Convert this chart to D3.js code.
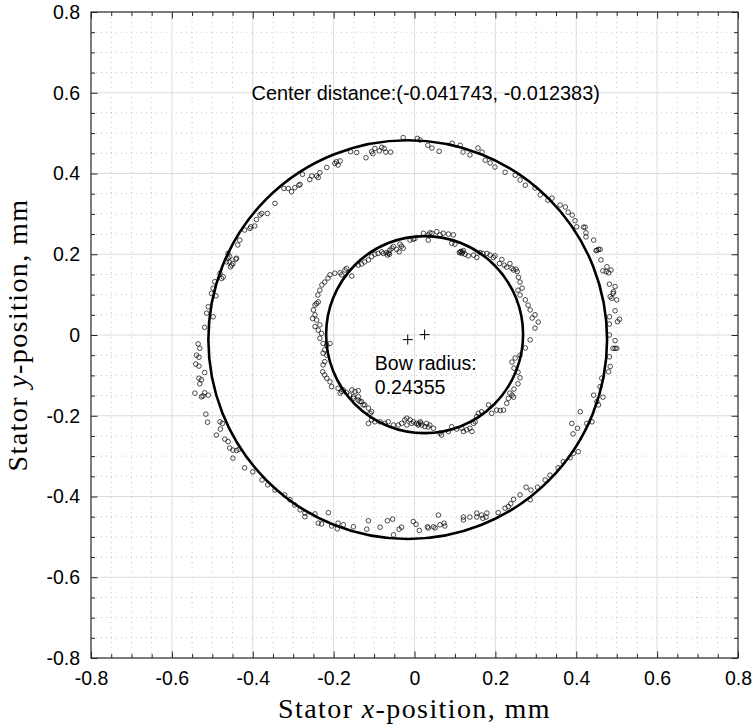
<!DOCTYPE html>
<html>
<head>
<meta charset="utf-8">
<script src="https://cdn.jsdelivr.net/npm/d3@7"></script>
<style>
  html, body { margin: 0; padding: 0; background: #fff; }
  svg { display: block; }
</style>
</head>
<body>
<svg id="chart" width="752" height="726"></svg>
<script>
// Measured rotor positions (mm) around the outer (whirl) orbit
const outerPoints = [
  [-0.028,0.489],[0.007,0.487],[0.061,0.455],[-0.081,0.465],[-0.075,0.462],[-0.087,0.456],
  [-0.098,0.462],[-0.106,0.454],[-0.103,0.449],[-0.120,0.439],[-0.143,0.452],[-0.158,0.454],
  [-0.059,0.453],[-0.071,0.453],[-0.193,0.429],[-0.184,0.431],[-0.197,0.425],[-0.189,0.421],
  [-0.217,0.415],[-0.234,0.402],[-0.242,0.394],[-0.254,0.394],[-0.259,0.385],[-0.238,0.390],
  [-0.277,0.398],[-0.283,0.373],[-0.286,0.371],[-0.296,0.365],[-0.304,0.355],[-0.312,0.363],
  [-0.323,0.363],[-0.345,0.326],[-0.364,0.301],[-0.378,0.301],[-0.382,0.297],[-0.391,0.286],
  [-0.395,0.270],[-0.405,0.268],[-0.407,0.264],[-0.420,0.260],[-0.432,0.235],[-0.437,0.223],
  [-0.440,0.190],[-0.449,0.177],[-0.458,0.181],[-0.455,0.169],[-0.461,0.190],[-0.452,0.173],
  [-0.465,0.181],[-0.461,0.202],[-0.457,0.194],[-0.442,0.188],
  [-0.481,0.153],[-0.473,0.144],[-0.477,0.140],[-0.494,0.132],[-0.498,0.116],[-0.502,0.103],
  [-0.491,0.097],[-0.510,0.070],[-0.514,0.054],[-0.498,0.045],[-0.519,0.019],
  [-0.535,-0.022],[-0.531,-0.033],[-0.539,-0.050],[-0.533,-0.055],[-0.541,-0.072],[-0.533,-0.077],
  [-0.519,-0.093],[-0.533,-0.107],[-0.527,-0.111],[-0.531,-0.121],[-0.543,-0.144],[-0.519,-0.143],
  [-0.523,-0.151],[-0.510,-0.149],[-0.527,-0.153],[-0.516,-0.196],[-0.512,-0.216],[-0.481,-0.215],
  [-0.475,-0.219],[-0.480,-0.233],[-0.490,-0.248],[-0.469,-0.258],[-0.461,-0.264],[-0.457,-0.280],
  [-0.449,-0.285],[-0.440,-0.286],[-0.434,-0.283],[-0.449,-0.305],
  [-0.420,-0.329],[-0.400,-0.339],[-0.377,-0.359],[-0.363,-0.371],[-0.345,-0.384],[-0.321,-0.396],
  [-0.308,-0.408],[-0.296,-0.421],[-0.283,-0.433],
  [-0.271,-0.441],[-0.271,-0.450],[-0.246,-0.443],[-0.238,-0.466],[-0.230,-0.468],[-0.213,-0.440],
  [-0.205,-0.473],[-0.189,-0.466],[-0.191,-0.480],[-0.176,-0.470],[-0.151,-0.475],[-0.114,-0.460],
  [-0.118,-0.481],[-0.085,-0.476],[-0.067,-0.460],[-0.054,-0.456],[-0.052,-0.495],[-0.038,-0.481],
  [-0.032,-0.476],[-0.003,-0.462],[0.004,-0.469],[0.012,-0.484],[0.032,-0.475],[0.034,-0.478],
  [0.047,-0.475],[0.051,-0.478],[0.059,-0.446],[0.063,-0.470],[0.073,-0.466],[0.075,-0.473],
  [0.121,-0.451],[0.121,-0.458],[0.137,-0.451],[0.154,-0.441],[0.154,-0.451],[0.166,-0.446],
  [0.169,-0.454],[0.179,-0.441],[0.177,-0.451],[0.207,-0.440],[0.224,-0.429],[0.232,-0.425],
  [0.238,-0.418],[0.245,-0.407],[0.261,-0.396],[0.276,-0.377],[0.288,-0.384],[0.286,-0.408],
  [0.304,-0.377],[0.323,-0.359],[0.335,-0.347],[0.355,-0.329],[0.368,-0.314],[0.385,-0.304],
  [0.405,-0.289],[0.393,-0.293],[0.392,-0.245],[0.403,-0.231],[0.389,-0.219],[0.410,-0.190],
  [0.426,-0.219],[0.439,-0.215],[0.443,-0.149],[0.451,-0.165],[0.455,-0.173],[0.466,-0.154],
  [0.459,-0.128],[0.463,-0.107],[0.480,-0.091],[0.484,-0.078],[0.482,-0.054],[0.496,-0.033],
  [0.500,-0.033],[0.491,-0.033],[0.496,-0.014],[0.482,0.000],
  [0.397,0.283],[0.401,0.268],[0.418,0.267],[0.422,0.267],[0.424,0.253],[0.424,0.243],
  [0.443,0.235],[0.451,0.210],[0.455,0.212],[0.459,0.212],[0.449,0.209],[0.461,0.186],
  [0.476,0.169],[0.466,0.159],[0.474,0.157],[0.480,0.154],[0.486,0.161],[0.482,0.126],
  [0.496,0.120],[0.492,0.107],[0.484,0.095],[0.488,0.091],[0.491,0.103],[0.500,0.087],
  [0.496,0.060],[0.482,0.045],[0.507,0.039],[0.502,0.033],[0.482,0.027],
  [0.093,0.475],[0.113,0.470],[0.120,0.453],[0.137,0.446],[0.157,0.463],[0.167,0.453],
  [0.175,0.433],[0.187,0.426],[0.199,0.416],[0.224,0.403],[0.249,0.396],[0.261,0.384],
  [0.274,0.371],[0.298,0.364],[0.311,0.347],[0.330,0.334],[0.340,0.339],[0.360,0.322],
  [0.373,0.317],[0.380,0.304],[0.390,0.297],[0.014,0.483],[0.033,0.470],[0.043,0.463]
];

// Measured rotor positions (mm) around the inner (bow) orbit
const innerPoints = [
  [-0.184,0.154],[-0.180,0.149],[-0.172,0.161],[-0.168,0.165],[-0.155,0.146],[-0.139,0.173],
  [-0.131,0.176],[-0.123,0.181],[-0.114,0.186],[-0.106,0.194],[-0.098,0.200],[-0.090,0.202],
  [-0.081,0.206],[-0.077,0.202],[-0.069,0.204],[-0.067,0.198],[-0.064,0.203],[-0.062,0.200],
  [-0.061,0.210],[-0.056,0.215],[-0.052,0.219],[-0.044,0.212],[-0.036,0.225],[-0.032,0.220],
  [-0.038,0.206],[-0.028,0.215],[-0.011,0.235],[-0.003,0.237],[0.001,0.239],[0.022,0.252],
  [0.034,0.248],[0.038,0.253],[0.034,0.235],[0.043,0.252],[0.055,0.256],[0.063,0.248],
  [0.071,0.252],[0.084,0.250],[0.096,0.248],[0.092,0.227],[0.100,0.225],[0.113,0.206],
  [0.115,0.207],[0.119,0.205],[0.117,0.202],[0.121,0.209],[0.111,0.204],[0.125,0.200],
  [0.133,0.196],[0.146,0.198],[0.154,0.192],[0.162,0.204],[0.169,0.202],[0.179,0.202],
  [0.187,0.198],[0.195,0.192],[0.199,0.196],[0.210,0.177],[0.216,0.187],[0.222,0.173],
  [0.228,0.168],[0.236,0.177],[0.241,0.165],[0.245,0.161],[0.251,0.163],[0.254,0.157],
  [0.257,0.143],
  [-0.239,0.099],[-0.234,0.111],[-0.229,0.124],[-0.222,0.131],[-0.214,0.141],[-0.209,0.149],
  [-0.197,0.153],[-0.246,0.074],[-0.242,0.078],[-0.238,0.082],[-0.250,0.062],[-0.246,0.050],
  [-0.252,0.041],[-0.242,0.037],[-0.234,0.025],[-0.246,0.021],[-0.238,0.012],[-0.230,0.004],
  [-0.234,-0.008],[-0.226,-0.021],[-0.217,-0.025],[-0.209,-0.021],[-0.222,-0.037],[-0.226,-0.045],
  [-0.217,-0.050],[-0.222,-0.066],[-0.226,-0.074],[-0.227,-0.091],[-0.222,-0.099],[-0.217,-0.107],
  [-0.209,-0.116],[-0.205,-0.128],[-0.189,-0.132],[-0.184,-0.144],[-0.155,-0.136],[-0.147,-0.140],
  [-0.139,-0.138],[-0.160,-0.149],[-0.151,-0.153],[-0.139,-0.153],[-0.131,-0.165],[-0.123,-0.173],
  [-0.114,-0.181],[-0.106,-0.190],[-0.180,-0.140],[-0.176,-0.136],[-0.168,-0.143],[-0.151,-0.157],
  [-0.139,-0.161],[-0.135,-0.165],[-0.127,-0.173],[-0.110,-0.194],
  [-0.114,-0.219],[-0.106,-0.210],[-0.098,-0.215],[-0.085,-0.215],[-0.073,-0.219],[-0.065,-0.215],
  [-0.052,-0.223],[-0.040,-0.223],[-0.032,-0.219],[-0.024,-0.210],[-0.019,-0.206],[-0.011,-0.210],
  [-0.007,-0.219],[-0.019,-0.223],[-0.003,-0.215],[0.005,-0.219],[0.009,-0.223],[0.014,-0.215],
  [0.010,-0.220],[0.016,-0.218],[0.018,-0.223],[0.026,-0.227],[0.030,-0.219],[0.034,-0.228],
  [0.038,-0.223],[0.047,-0.231],[0.063,-0.243],[0.067,-0.248],[0.084,-0.239],[0.092,-0.227],
  [0.104,-0.233],[0.117,-0.231],[0.121,-0.239],[0.129,-0.235],[0.137,-0.231],[0.142,-0.239],
  [0.146,-0.219],[0.150,-0.215],[0.154,-0.202],[0.158,-0.194],[0.166,-0.190],[0.183,-0.173],
  [0.191,-0.194],[0.203,-0.186],[0.212,-0.187],[0.220,-0.186],[0.228,-0.169],[0.232,-0.157],
  [0.241,-0.149],[0.245,-0.154],[0.236,-0.144],
  [0.261,0.131],[0.266,0.116],[0.256,0.111],[0.261,0.099],[0.274,0.087],[0.281,0.074],
  [0.286,0.062],[0.298,0.050],[0.306,0.032],[0.298,0.017],[0.291,0.042],[0.286,-0.012],
  [0.274,-0.032],[0.261,-0.050],[0.249,-0.057],[0.241,-0.067],[0.246,-0.082],[0.256,-0.092],
  [0.261,-0.106],[0.256,-0.121],[0.246,-0.134]
];

// Fitted orbits: centre (mm) and radius (mm)
const bowCenter = [0.0250, 0.0010];
const bowRadius = 0.24355;
const centerOffset = [-0.041743, -0.012383];
const whirlCenter = [bowCenter[0] + centerOffset[0], bowCenter[1] + centerOffset[1]];
const whirlRadius = 0.493;

// Axis ticks
const majorTicks = [-0.8, -0.6, -0.4, -0.2, 0, 0.2, 0.4, 0.6, 0.8];
const tickLabels = ["-0.8", "-0.6", "-0.4", "-0.2", "0", "0.2", "0.4", "0.6", "0.8"];
const minorTicks = d3.range(-16, 17).map(i => i * 0.05);

const margin = { left: 91, top: 12, right: 14, bottom: 68 };
const W = 752, H = 726;
const iw = W - margin.left - margin.right;   // 647
const ih = H - margin.top - margin.bottom;   // 646

const svg = d3.select("#chart");
const g = svg.append("g").attr("transform", `translate(${margin.left},${margin.top})`);

const x = d3.scaleLinear().domain([-0.8, 0.8]).range([0, iw]);
const y = d3.scaleLinear().domain([-0.8, 0.8]).range([ih, 0]);

// Minor grid (dotted)
const minorOnly = minorTicks.filter(v => !majorTicks.some(m => Math.abs(m - v) < 1e-9));
g.append("g").selectAll("line").data(minorOnly).join("line")
  .attr("x1", d => x(d)).attr("x2", d => x(d)).attr("y1", 0).attr("y2", ih)
  .attr("stroke", "#b8b8b8").attr("stroke-width", 0.8).attr("stroke-dasharray", "1,4");
g.append("g").selectAll("line").data(minorOnly).join("line")
  .attr("y1", d => y(d)).attr("y2", d => y(d)).attr("x1", 0).attr("x2", iw)
  .attr("stroke", "#b8b8b8").attr("stroke-width", 0.8).attr("stroke-dasharray", "1,4");

// Major grid (solid, light)
const inner = majorTicks.slice(1, -1);
g.append("g").selectAll("line").data(inner).join("line")
  .attr("x1", d => x(d)).attr("x2", d => x(d)).attr("y1", 0).attr("y2", ih)
  .attr("stroke", "#dcdcdc").attr("stroke-width", 1);
g.append("g").selectAll("line").data(inner).join("line")
  .attr("y1", d => y(d)).attr("y2", d => y(d)).attr("x1", 0).attr("x2", iw)
  .attr("stroke", "#dcdcdc").attr("stroke-width", 1);

// Axes with inward ticks, mirrored on all four sides
const fmt = d => tickLabels[majorTicks.findIndex(m => Math.abs(m - d) < 1e-9)];
const axisColor = "#262626";
function styleAxis(sel) {
  sel.select(".domain").remove();
  sel.selectAll(".tick line").attr("stroke", axisColor);
  sel.selectAll(".tick text")
    .attr("font-family", "'Liberation Sans', Arial, sans-serif")
    .attr("font-size", 19.5).attr("fill", "#000");
}
// minor ticks
[[d3.axisBottom(x), `translate(0,${ih})`, -4], [d3.axisTop(x), "translate(0,0)", -4],
 [d3.axisLeft(y), "translate(0,0)", -4], [d3.axisRight(y), `translate(${iw},0)`, -4]]
  .forEach(([ax, tr, len]) => {
    g.append("g").attr("transform", tr)
      .call(ax.tickValues(minorOnly).tickSize(len).tickFormat(""))
      .call(styleAxis);
  });
// major ticks with labels on bottom and left
g.append("g").attr("transform", `translate(0,${ih})`)
  .call(d3.axisBottom(x).tickValues(majorTicks).tickSizeInner(-6.5).tickSizeOuter(0).tickPadding(13).tickFormat(fmt))
  .call(styleAxis);
g.append("g")
  .call(d3.axisLeft(y).tickValues(majorTicks).tickSizeInner(-6.5).tickSizeOuter(0).tickPadding(11).tickFormat(fmt))
  .call(styleAxis);
g.append("g")
  .call(d3.axisTop(x).tickValues(majorTicks).tickSizeInner(-6.5).tickSizeOuter(0).tickFormat(""))
  .call(styleAxis);
g.append("g").attr("transform", `translate(${iw},0)`)
  .call(d3.axisRight(y).tickValues(majorTicks).tickSizeInner(-6.5).tickSizeOuter(0).tickFormat(""))
  .call(styleAxis);

// Plot box
g.append("rect").attr("x", 0).attr("y", 0).attr("width", iw).attr("height", ih)
  .attr("fill", "none").attr("stroke", axisColor).attr("stroke-width", 1.2);

// Measured positions
const pts = g.append("g");
pts.selectAll("circle.o").data(outerPoints).join("circle").attr("class", "o")
  .attr("cx", d => x(d[0])).attr("cy", d => y(d[1])).attr("r", 2.3)
  .attr("fill", "none").attr("stroke", "#000").attr("stroke-width", 0.7);
pts.selectAll("circle.i").data(innerPoints).join("circle").attr("class", "i")
  .attr("cx", d => x(d[0])).attr("cy", d => y(d[1])).attr("r", 2.3)
  .attr("fill", "none").attr("stroke", "#000").attr("stroke-width", 0.7);

// Fitted orbits
const fits = [
  { c: whirlCenter, r: whirlRadius },
  { c: bowCenter, r: bowRadius }
];
g.append("g").selectAll("circle").data(fits).join("circle")
  .attr("cx", d => x(d.c[0])).attr("cy", d => y(d.c[1]))
  .attr("r", d => x(d.r) - x(0))
  .attr("fill", "none").attr("stroke", "#000").attr("stroke-width", 2.6);

// Centre markers
const centers = [whirlCenter, bowCenter];
g.append("g").selectAll("path").data(centers).join("path")
  .attr("transform", d => `translate(${x(d[0])},${y(d[1])})`)
  .attr("d", "M-5,0H5M0,-5V5")
  .attr("stroke", "#000").attr("stroke-width", 1).attr("fill", "none");

// Annotations
const annFont = "'Liberation Sans', Arial, sans-serif";
g.append("text").attr("x", x(-0.403)).attr("y", y(0.583))
  .attr("font-family", annFont).attr("font-size", 19.9).attr("fill", "#000")
  .text(`Center distance:(${centerOffset[0]}, ${centerOffset[1]})`);
const bow = g.append("text").attr("x", x(-0.098)).attr("y", y(-0.087))
  .attr("font-family", annFont).attr("font-size", 19.5).attr("fill", "#000");
bow.append("tspan").text("Bow radius:");
bow.append("tspan").attr("x", x(-0.098)).attr("dy", 24).text(`${bowRadius}`);

// Axis titles
const serif = "'Liberation Serif', 'Times New Roman', serif";
const xt = svg.append("text").attr("x", margin.left + iw / 2).attr("y", 718)
  .attr("text-anchor", "middle").attr("font-family", serif).attr("font-size", 28)
  .attr("letter-spacing", 1.4).attr("fill", "#000");
xt.append("tspan").text("Stator ");
xt.append("tspan").attr("font-style", "italic").text("x");
xt.append("tspan").text("-position, mm");

const yt = svg.append("text")
  .attr("transform", `translate(27,${margin.top + ih / 2}) rotate(-90)`)
  .attr("text-anchor", "middle").attr("font-family", serif).attr("font-size", 28)
  .attr("letter-spacing", 1.4).attr("fill", "#000");
yt.append("tspan").text("Stator ");
yt.append("tspan").attr("font-style", "italic").text("y");
yt.append("tspan").text("-position, mm");
</script>
</body>
</html>
